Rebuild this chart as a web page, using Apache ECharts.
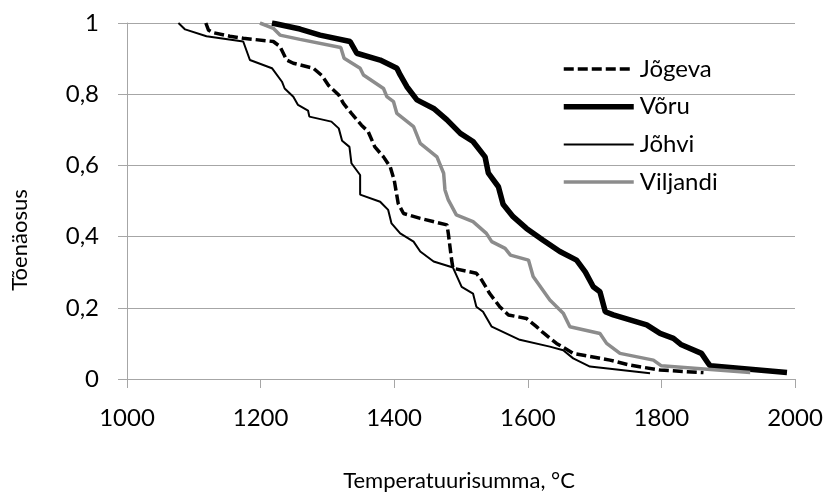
<!DOCTYPE html>
<html>
<head>
<meta charset="utf-8">
<script src="https://cdn.jsdelivr.net/npm/echarts@6/dist/echarts.min.js"></script>
<style>
html,body{margin:0;padding:0;background:#fff;}
#c{width:826px;height:500px;}
</style>
</head>
<body>
<div id="c"></div>
<script>
const seriesNames = ['Jõgeva', 'Võru', 'Jõhvi', 'Viljandi'];
const xTicks = [1000, 1200, 1400, 1600, 1800, 2000];
const yTicks = [0, 0.2, 0.4, 0.6, 0.8, 1];
const xTitle = 'Temperatuurisumma, °C';
const yTitle = 'Tõenäosus';

const jogeva = [[1118,1.0],[1122,0.98],[1129,0.973],[1154,0.963],[1174,0.957],[1219,0.948],[1229,0.934],[1239,0.896],[1249,0.887],[1279,0.873],[1292,0.852],[1302,0.824],[1317,0.798],[1324,0.774],[1336,0.746],[1351,0.713],[1361,0.695],[1371,0.652],[1384,0.624],[1394,0.596],[1400,0.559],[1406,0.493],[1414,0.465],[1439,0.451],[1479,0.433],[1481,0.409],[1486,0.334],[1488,0.311],[1523,0.297],[1531,0.278],[1543,0.240],[1558,0.203],[1571,0.180],[1598,0.170],[1613,0.147],[1623,0.130],[1643,0.100],[1668,0.072],[1723,0.053],[1753,0.039],[1798,0.025],[1863,0.018]];
const voru = [[1217,1.0],[1259,0.983],[1289,0.966],[1334,0.948],[1344,0.915],[1379,0.896],[1404,0.873],[1409,0.854],[1419,0.821],[1434,0.784],[1459,0.760],[1479,0.728],[1499,0.690],[1518,0.667],[1536,0.624],[1541,0.578],[1556,0.540],[1563,0.491],[1578,0.456],[1598,0.423],[1623,0.390],[1648,0.358],[1673,0.334],[1686,0.301],[1698,0.259],[1708,0.245],[1716,0.189],[1728,0.180],[1778,0.152],[1798,0.128],[1818,0.114],[1830,0.096],[1860,0.072],[1870,0.044],[1873,0.037],[1988,0.018]];
const johvi = [[1077,1.0],[1087,0.982],[1119,0.963],[1174,0.948],[1184,0.896],[1217,0.873],[1232,0.835],[1236,0.816],[1249,0.793],[1256,0.770],[1271,0.754],[1273,0.737],[1306,0.723],[1317,0.704],[1322,0.669],[1333,0.652],[1336,0.606],[1349,0.573],[1349,0.518],[1379,0.498],[1391,0.475],[1396,0.437],[1409,0.409],[1429,0.386],[1439,0.358],[1459,0.330],[1488,0.313],[1501,0.259],[1518,0.240],[1523,0.203],[1533,0.189],[1546,0.147],[1588,0.110],[1633,0.091],[1653,0.081],[1668,0.058],[1693,0.035],[1783,0.016]];
const viljandi = [[1199,1.0],[1219,0.985],[1229,0.966],[1259,0.954],[1320,0.931],[1325,0.901],[1349,0.873],[1354,0.854],[1384,0.816],[1389,0.793],[1399,0.779],[1404,0.746],[1429,0.709],[1439,0.662],[1464,0.624],[1474,0.578],[1476,0.531],[1481,0.503],[1493,0.461],[1518,0.442],[1538,0.409],[1546,0.386],[1566,0.367],[1574,0.348],[1601,0.334],[1608,0.288],[1633,0.222],[1653,0.185],[1663,0.147],[1708,0.128],[1718,0.100],[1738,0.072],[1788,0.053],[1800,0.037],[1933,0.018]];

const FONT = 'Lato';
const FS = 24;
const TFS = 22;
const gridColor = '#a6a6a6';

const chart = echarts.init(document.getElementById('c'), null, {renderer: 'canvas'});
chart.setOption({
  animation: false,
  backgroundColor: '#fff',
  textStyle: {fontFamily: FONT},
  grid: {left: 127, right: 31, top: 23, bottom: 121, containLabel: false},
  legend: {
    orient: 'vertical',
    left: 556,
    top: 52,
    itemWidth: 70,
    itemHeight: 20,
    itemGap: 13.7,
    data: seriesNames,
    itemStyle: {opacity: 0},
    lineStyle: {width: 'inherit', type: 'inherit'},
    textStyle: {fontFamily: FONT, fontSize: FS, color: '#000', padding: [0,0,0,1]}
  },
  xAxis: {
    type: 'value',
    min: xTicks[0], max: xTicks[xTicks.length-1], interval: 200,
    axisLine: {show: true, lineStyle: {color: gridColor, width: 1}},
    axisTick: {show: true, length: 9, lineStyle: {color: gridColor}},
    splitLine: {show: false},
    axisLabel: {fontFamily: FONT, fontSize: FS, color: '#000', margin: 27, formatter: v => String(v)}
  },
  yAxis: {
    type: 'value',
    min: yTicks[0], max: yTicks[yTicks.length-1], interval: 0.2,
    axisLine: {show: true, lineStyle: {color: gridColor, width: 1}},
    axisTick: {show: true, length: 9, lineStyle: {color: gridColor}},
    splitLine: {show: true, lineStyle: {color: gridColor, width: 1}},
    axisLabel: {fontFamily: FONT, fontSize: FS, color: '#000', margin: 28,
      formatter: v => String(Math.round(v*10)/10).replace('.', ',')}
  },
  graphic: [
    {type: 'text', x: 459, y: 481, style: {text: xTitle, font: TFS + 'px ' + FONT, fill: '#000', textAlign: 'center', textVerticalAlign: 'middle'}},
    {type: 'text', x: 9, y: 240, rotation: Math.PI/2, style: {text: yTitle, font: TFS + 'px ' + FONT, fill: '#000', textAlign: 'center', textVerticalAlign: 'top'}}
  ],
  series: [
    {name: seriesNames[0], type: 'line', data: jogeva, showSymbol: false, symbol: 'none',
      lineStyle: {color: '#000', width: 3.5, type: [10, 4]}, itemStyle: {color: '#000'}},
    {name: seriesNames[1], type: 'line', data: voru, showSymbol: false, symbol: 'none',
      lineStyle: {color: '#000', width: 5.5}, itemStyle: {color: '#000'}},
    {name: seriesNames[2], type: 'line', data: johvi, showSymbol: false, symbol: 'none',
      lineStyle: {color: '#000', width: 2}, itemStyle: {color: '#000'}},
    {name: seriesNames[3], type: 'line', data: viljandi, showSymbol: false, symbol: 'none',
      lineStyle: {color: '#8c8c8c', width: 3.5}, itemStyle: {color: '#8c8c8c'}}
  ]
});
</script>
</body>
</html>
